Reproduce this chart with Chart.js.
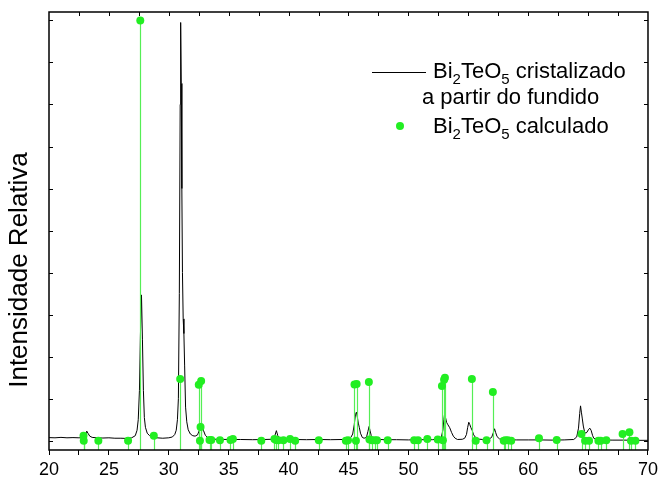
<!DOCTYPE html>
<html>
<head>
<meta charset="utf-8">
<script src="https://cdn.jsdelivr.net/npm/chart.js@4/dist/chart.umd.min.js"></script>
<style>
  html, body { margin: 0; padding: 0; background: #fff; }
</style>
</head>
<body>
<canvas id="chart" width="662" height="483"></canvas>
<script>
// measured pattern (black line): 2theta / relative intensity
const measX = [20.0, 20.5, 21.0, 21.5, 22.0, 22.5, 22.9, 23.05, 23.15, 23.25, 23.4, 23.6, 24.0, 24.5, 25.0, 25.5, 26.0, 26.5, 26.9,
  27.2, 27.35, 27.45, 27.55, 27.63, 27.72, 27.8, 27.88, 27.96, 28.05, 28.2, 28.4, 28.6, 29.0, 29.5, 30.0, 30.3, 30.5, 30.62,
  30.72, 30.8, 30.88, 30.95, 30.99, 31.04, 31.09, 31.14, 31.2, 31.26, 31.32, 31.4, 31.5, 31.62, 31.8, 32.0, 32.2, 32.4, 32.55, 32.65, 32.72,
  32.8, 32.9, 33.05, 33.3, 33.6, 34.0, 35.0, 36.0, 37.0, 38.0, 38.6, 38.85, 38.98, 39.1, 39.3, 39.8, 40.5, 41.5, 42.5, 43.5,
  44.5, 45.0, 45.2, 45.35, 45.48, 45.58, 45.66, 45.74, 45.82, 45.9, 46.0, 46.15, 46.3, 46.5, 46.62, 46.72, 46.8, 46.9, 47.05,
  47.3, 48.0, 49.0, 50.0, 51.0, 52.0, 52.5, 52.75, 52.88, 52.96, 53.03, 53.1, 53.2, 53.3, 53.45, 53.6, 53.75, 53.9, 54.1,
  54.5, 54.7, 54.85, 54.95, 55.04, 55.12, 55.22, 55.32, 55.45, 55.6, 55.8, 56.2, 56.7, 56.95, 57.1, 57.19, 57.28, 57.4,
  57.6, 58.0, 59.0, 60.0, 61.0, 62.0, 63.0, 63.8, 64.05, 64.2, 64.3, 64.37, 64.44, 64.51, 64.6, 64.7, 64.79, 64.9, 65.02,
  65.14, 65.25, 65.37, 65.47, 65.7, 66.0, 67.0, 68.0, 69.0, 70.0];
const measY = [0.75, 0.7, 0.8, 0.7, 0.75, 0.7, 0.75, 1.3, 2.3, 1.8, 1.1, 0.8, 0.7, 0.65, 0.7, 0.6, 0.6, 0.55, 0.7,
  1.2, 2.5, 5, 12, 25, 34.7, 24, 12, 5.5, 3.2, 1.8, 1.2, 0.9, 0.7, 0.6, 0.7, 0.9, 1.5, 2.5,
  5, 10, 35, 80, 99.5, 85, 60, 40, 29, 25.5, 18, 8, 4.5, 2.6, 1.6, 1.2, 1.1, 1.4, 2.5, 4.0, 4.3,
  3.5, 2.4, 1.3, 0.6, 0.4, 0.35, 0.3, 0.3, 0.25, 0.3, 0.35, 1.2, 2.4, 1.2, 0.5, 0.35, 0.3, 0.25, 0.3, 0.25,
  0.3, 0.4, 0.8, 1.6, 3.8, 6.2, 6.8, 5.6, 4.2, 3.2, 1.8, 0.8, 0.6, 0.8, 2.2, 3.4, 2.4, 1.2, 0.6,
  0.35, 0.25, 0.25, 0.2, 0.25, 0.25, 0.4, 0.9, 2.5, 5.0, 6.6, 5.5, 4.3, 3.8, 3.1, 2.0, 1.1, 0.6, 0.3,
  0.35, 0.6, 1.5, 3.2, 4.4, 3.9, 3.1, 2.5, 1.4, 0.8, 0.4, 0.3, 0.35, 0.8, 2.0, 2.85, 2.0, 1.0,
  0.45, 0.25, 0.2, 0.2, 0.2, 0.15, 0.2, 0.3, 0.9, 3.0, 6.5, 8.3, 6.8, 5.4, 3.5, 2.2, 1.8, 2.0, 2.6,
  3.0, 2.5, 1.3, 0.6, 0.3, 0.2, 0.15, 0.15, 0.1, 0.1];

// calculated reflections (green stems)
const calcX = [22.88, 22.9, 24.12, 26.6, 27.62, 28.75, 30.95, 32.5, 32.6, 32.65, 32.7, 33.4, 33.55, 34.27, 35.15, 35.35,
  37.72, 38.82, 38.95, 39.15, 39.57, 40.12, 40.55, 42.52, 44.78, 44.96, 45.5, 45.62, 45.68, 46.7, 46.75, 46.95, 47.18,
  47.38, 48.27, 50.48, 50.8, 51.58, 52.45, 52.8, 52.88, 52.98, 53.05, 55.3, 55.62, 56.52, 57.05, 57.96, 58.1, 58.3,
  58.58, 60.9, 62.38, 64.45, 64.75, 65.08, 65.86, 66.05, 66.52, 67.88, 68.45, 68.58, 68.95];
const calcY = [1.2, 0.0, 0.0, 0.0, 100, 1.2, 14.7, 13.3, 0.0, 3.3, 14.2, 0.2, 0.2, 0.1, 0.2, 0.4,
  0.0, 0.4, 0.2, 0.1, 0.1, 0.4, 0.0, 0.1, 0.0, 0.1, 13.4, 0.0, 13.5, 14.0, 0.3, 0.1, 0.1,
  0.1, 0.1, 0.1, 0.1, 0.4, 0.3, 13.0, 0.1, 14.5, 15.0, 14.7, 0.0, 0.1, 11.6, 0.0, 0.1, 0.1,
  0.0, 0.6, 0.2, 1.6, 0.0, 0.0, 0.0, 0.0, 0.1, 1.6, 2.0, 0.0, 0.0];

const xTicks = [20, 25, 30, 35, 40, 45, 50, 55, 60, 65, 70];
const yLabel = 'Intensidade Relativa';

const GREEN = '#22ee22';
const STEM = '#55ee55';
const FONT = '"Liberation Sans", Arial, sans-serif';

// stems from the bottom of the plot up to each calculated point
const stems = {
  id: 'stems',
  beforeDatasetDraw(chart, args) {
    if (args.index !== 0) return;
    const ctx = chart.ctx, bottom = chart.chartArea.bottom;
    ctx.save();
    ctx.strokeStyle = STEM;
    ctx.lineWidth = 1.2;
    args.meta.data.forEach(p => {
      ctx.beginPath();
      ctx.moveTo(Math.round(p.x) + 0.5, bottom);
      ctx.lineTo(Math.round(p.x) + 0.5, p.y);
      ctx.stroke();
    });
    ctx.restore();
  }
};

// frame, inner ticks, y title and legend
const frame = {
  id: 'frame',
  afterDraw(chart) {
    const ctx = chart.ctx, a = chart.chartArea;
    const xs = chart.scales.x, ys = chart.scales.y;
    ctx.save();
    ctx.strokeStyle = '#000';
    ctx.lineWidth = 1.5;
    ctx.strokeRect(a.left, a.top, a.right - a.left, a.bottom - a.top);
    ctx.lineWidth = 1;
    ctx.beginPath();
    for (let v = 22.5; v < 70; v += 2.5) {
      const px = Math.round(xs.getPixelForValue(v)) + 0.5;
      ctx.moveTo(px, a.top);
      ctx.lineTo(px, a.top + 4);
    }
    for (let v = 0; v <= 100; v += 10) {
      const py = Math.round(ys.getPixelForValue(v)) + 0.5;
      ctx.moveTo(a.left, py);
      ctx.lineTo(a.left + 4, py);
      ctx.moveTo(a.right, py);
      ctx.lineTo(a.right - 4, py);
    }
    ctx.stroke();

    // y title
    ctx.fillStyle = '#000';
    ctx.font = '26px ' + FONT;
    ctx.translate(20, 270);
    ctx.rotate(-Math.PI / 2);
    ctx.textAlign = 'center';
    ctx.textBaseline = 'middle';
    ctx.fillText(yLabel, 0, 0);
    ctx.restore();

    // legend
    ctx.save();
    ctx.fillStyle = '#000';
    ctx.textBaseline = 'alphabetic';
    const runs = (parts, x, y) => {
      parts.forEach(([t, sub]) => {
        ctx.font = (sub ? '15px ' : '22px ') + FONT;
        ctx.fillText(t, x, sub ? y + 6 : y);
        x += ctx.measureText(t).width;
      });
    };
    ctx.strokeStyle = '#000';
    ctx.lineWidth = 1;
    ctx.beginPath();
    ctx.moveTo(372, 72.5);
    ctx.lineTo(426, 72.5);
    ctx.stroke();
    runs([['Bi', 0], ['2', 1], ['TeO', 0], ['5', 1], [' cristalizado', 0]], 433, 78);
    runs([['a partir do fundido', 0]], 422, 104);
    ctx.fillStyle = GREEN;
    ctx.beginPath();
    ctx.arc(400, 126, 4, 0, Math.PI * 2);
    ctx.fill();
    ctx.fillStyle = '#000';
    runs([['Bi', 0], ['2', 1], ['TeO', 0], ['5', 1], [' calculado', 0]], 433, 133);
    ctx.restore();
  }
};

new Chart(document.getElementById('chart'), {
  type: 'scatter',
  data: {
    datasets: [
      {
        label: 'Bi2TeO5 calculado',
        data: calcX.map((x, i) => ({ x: x, y: calcY[i] })),
        backgroundColor: GREEN,
        borderWidth: 0,
        pointRadius: 4,
        showLine: false
      },
      {
        label: 'Bi2TeO5 cristalizado a partir do fundido',
        data: measX.map((x, i) => ({ x: x, y: measY[i] })),
        borderColor: '#000',
        borderWidth: 1,
        pointRadius: 0,
        showLine: true,
        tension: 0
      }
    ]
  },
  options: {
    responsive: false,
    animation: false,
    layout: { padding: { top: 12, right: 10, left: 0, bottom: 0 } },
    plugins: { legend: { display: false }, tooltip: { enabled: false } },
    scales: {
      x: {
        type: 'linear',
        min: 20,
        max: 70,
        afterFit: s => { s.height = 33; },
        border: { display: false },
        grid: { drawOnChartArea: false, drawTicks: true, tickLength: 5, color: '#000', tickWidth: 1 },
        ticks: {
          stepSize: 2.5,
          autoSkip: false,
          maxRotation: 0,
          padding: 4,
          color: '#000',
          font: { family: FONT, size: 18 },
          callback: v => xTicks.includes(v) ? String(v) : ''
        }
      },
      y: {
        min: -2.2,
        max: 102,
        afterFit: s => { s.width = 49; },
        border: { display: false },
        grid: { display: false },
        ticks: { display: false }
      }
    }
  },
  plugins: [stems, frame]
});
</script>
</body>
</html>
